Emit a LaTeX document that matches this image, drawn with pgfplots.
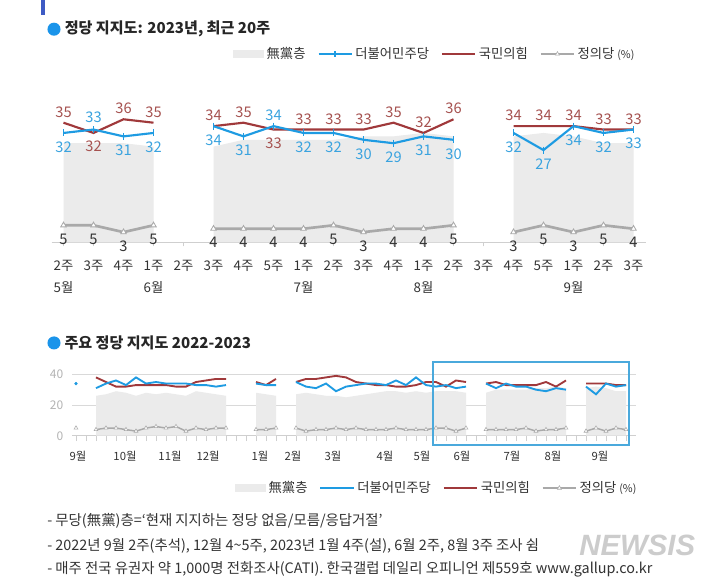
\documentclass[border=0pt]{standalone}
\usepackage{fontspec}
\setmainfont{Noto Sans CJK KR}
\newfontfamily\wmfont{Liberation Sans}
\usepackage{pgfplots}
\usepackage{pgfplotstable}
\pgfplotsset{compat=1.18}

\definecolor{minju}{HTML}{1E9BE2}
\definecolor{minjulbl}{HTML}{3AA3DF}
\definecolor{kuk}{HTML}{A0393B}
\definecolor{kuklbl}{HTML}{A65250}
\definecolor{jus}{HTML}{A9A9A9}
\definecolor{nonefill}{HTML}{EBEBEB}
\definecolor{txt}{HTML}{333333}
\definecolor{axgray}{HTML}{CFCFCF}
\definecolor{ylbl}{HTML}{B4B4B4}
\definecolor{dotblue}{HTML}{1A94EA}
\definecolor{boxblue}{HTML}{4AA9DC}
\definecolor{barblue}{HTML}{3E5BC4}

\newcommand{\fs}[1]{\fontsize{#1}{#1}\selectfont}

\pgfplotsset{
  rectlegend/.style={legend image code/.code={\fill[##1, draw=none] (0pt,-3pt) rectangle (23pt,3pt);}},
  linelegend/.style={legend image code/.code={\draw[mark repeat=2,mark phase=2,##1] plot coordinates {(0pt,0pt) (12.5pt,0pt) (25pt,0pt)};}},
}

% weekly Gallup data, idx 0 = 2022-09 1st week; nan = no survey
% ro/bo = label offsets (pt) for the top chart
\pgfplotstableread{
idx blue red jus none ro bo
0  34  nan 5   nan 0 0
1  nan nan nan nan 0 0
2  31  38  4   26  0 0
3  34  35  5   27  0 0
4  36  32  5   29  0 0
5  33  32  4   28  0 0
6  38  33  3   26  0 0
7  34  33  5   28  0 0
8  35  33  6   27  0 0
9  34  33  5   28  0 0
10 34  32  6   27  0 0
11 34  32  3   26  0 0
12 33  35  5   29  0 0
13 33  36  4   28  0 0
14 32  37  5   27  0 0
15 33  37  5   26  0 0
16 nan nan nan nan 0 0
17 nan nan nan nan 0 0
18 34  35  4   28  0 0
19 33  33  4   27  0 0
20 33  37  5   26  0 0
21 nan nan nan nan 0 0
22 35  35  5   27  0 0
23 32  37  3   28  0 0
24 31  37  4   27  0 0
25 34  38  4   26  0 0
26 29  39  5   26  0 0
27 32  38  4   25  0 0
28 33  35  5   26  0 0
29 34  34  4   27  0 0
30 34  33  4   28  0 0
31 33  33  4   29  0 0
32 36  32  5   29  0 0
33 33  32  4   28  0 0
34 38  33  4   29  0 0
35 33  35  4   28  0 0
36 32  35  5   29  8 -10.5
37 33  32  5   29  -10 9
38 31  36  3   29  8 -10.5
39 32  35  5   28  8 -10.5
40 nan nan nan nan 0 0
41 34  34  4   28  8 -10.5
42 31  35  4   30  8 -10.5
43 34  33  4   30  -10.5 8.5
44 32  33  4   30  8 -10.5
45 32  33  5   30  8 -10.5
46 30  33  3   31  8 -10.5
47 29  35  4   31  8 -10.5
48 31  32  4   32  8 -10.5
49 30  36  5   31  8 -10.5
50 nan nan nan nan 0 0
51 32  34  3   31  8 -10.5
52 27  34  5   32  8 -10.5
53 34  34  3   31  8 -10.5
54 32  33  5   29  8 -10.5
55 33  33  4   29  8 -10.5
}\polls

\begin{document}
\begin{tikzpicture}
\fill[white] (0pt,0pt) rectangle (540pt,-435pt);
\path[use as bounding box] (0pt,0pt) rectangle (540pt,-435pt);

\fill[barblue] (31.1pt,0pt) rectangle (34.1pt,-11.6pt);

% ---------- titles ----------
\fill[dotblue] (40.5pt,-21.9pt) circle (4.9pt);
\node[anchor=west, inner sep=0pt, font=\fs{11.3}\bfseries, text=black!85] at (48.4pt,-21.9pt) {정당 지지도: 2023년, 최근 20주};
\fill[dotblue] (40.5pt,-257.2pt) circle (4.9pt);
\node[anchor=west, inner sep=0pt, font=\fs{11.3}\bfseries, text=black!85] at (48.2pt,-257.0pt) {주요 정당 지지도 2022-2023};

% ---------- top chart: last 20 weeks ----------
\begin{axis}[
  at={(38.625pt,-181.8pt)}, anchor=south west,
  scale only axis, width=445.5pt, height=102.6pt,
  xmin=35.6, xmax=55.4, ymin=0, ymax=40,
  clip=false,
  axis x line=bottom, axis y line=none,
  axis line style={-, draw=axgray, line width=0.6pt},
  xtick={36,...,55},
  xticklabels={2주,3주,4주,1주,2주,3주,4주,5주,1주,2주,3주,4주,1주,2주,3주,4주,5주,1주,2주,3주},
  tick align=outside, major tick length=3pt,
  xtick style={draw=axgray, line width=0.5pt},
  xticklabel style={font=\fs{10}, text=txt, yshift=-7pt},
  extra x ticks={36,39,44,48,53},
  extra x tick labels={5월,6월,7월,8월,9월},
  extra x tick style={major tick length=0pt, tick label style={yshift=-18.75pt}},
  /pgf/number format/assume math mode=true,
  legend style={at={(0.3056,1.377)}, anchor=west, draw=none, fill=none,
    inner sep=0pt, font=\fs{10}, text=txt, legend columns=4,
    /tikz/every even column/.append style={column sep=7pt}},
  legend cell align=left,
]
\addplot[fill=nonefill, draw=none, forget plot, restrict x to domain=36:39] table[x=idx,y=none]{\polls} \closedcycle;
\addplot[fill=nonefill, draw=none, forget plot, restrict x to domain=41:49] table[x=idx,y=none]{\polls} \closedcycle;
\addplot[fill=nonefill, draw=none, forget plot, restrict x to domain=51:55] table[x=idx,y=none]{\polls} \closedcycle;

\addplot[jus, line width=2pt, mark=triangle*, mark size=2.4pt,
  mark options={fill=white, line width=0.6pt}, unbounded coords=jump,
  restrict x to domain=36:55, forget plot, nodes near coords,
  every node near coord/.append style={font=\fs{11}, text=txt, anchor=center, yshift=-10.5pt}]
  table[x=idx,y=jus]{\polls};
\addplot[kuk, line width=1.6pt, unbounded coords=jump,
  restrict x to domain=36:55, forget plot, nodes near coords,
  visualization depends on={\thisrow{ro}\as\ro},
  every node near coord/.append style={font=\fs{11}, text=kuklbl, anchor=center, yshift=\ro}]
  table[x=idx,y=red]{\polls};
\addplot[minju, line width=1.6pt, mark=|, mark size=2.6pt, mark options={line width=1.1pt},
  unbounded coords=jump, restrict x to domain=36:55, forget plot, nodes near coords,
  visualization depends on={\thisrow{bo}\as\bo},
  every node near coord/.append style={font=\fs{11}, text=minjulbl, anchor=center, yshift=\bo}]
  table[x=idx,y=blue]{\polls};

\addlegendimage{rectlegend, fill=nonefill, draw=none}
\addlegendentry{無黨층}
\addlegendimage{linelegend, minju, line width=1.4pt, mark=|, mark size=2.2pt}
\addlegendentry{더불어민주당}
\addlegendimage{linelegend, kuk, line width=1.4pt}
\addlegendentry{국민의힘}
\addlegendimage{linelegend, jus, line width=1.2pt, mark=triangle*, mark size=1.8pt, mark options={fill=white, line width=0.4pt}}
\addlegendentry{정의당 {\fs{8}(\%)}}
\end{axis}

% ---------- bottom chart: 2022-2023 ----------
\begin{axis}[
  at={(54pt,-326.8pt)}, anchor=south west,
  scale only axis, width=423pt, height=46.05pt,
  xmin=-0.4, xmax=56, ymin=0, ymax=40,
  axis lines=left,
  axis line style={-},
  y axis line style={draw=none},
  x axis line style={draw=axgray, line width=0.6pt},
  ytick={0,20,40},
  ymajorgrids, grid style={draw=axgray!80, line width=0.5pt},
  ytick style={draw=none},
  yticklabel style={font=\fs{9}, text=ylbl, xshift=-3pt},
  xtick={0.2,4.9,9.4,13.2,18.4,21.7,25.7,30.9,34.6,38.6,43.6,47.7,52.4},
  xticklabels={9월,10월,11월,12월,1월,2월,3월,4월,5월,6월,7월,8월,9월},
  minor xtick={0,...,55},
  tick align=outside,
  major tick length=0pt, minor tick length=4pt,
  minor tick style={draw=axgray, line width=0.5pt},
  xticklabel style={font=\fs{8.5}, text=txt, yshift=-8pt},
  /pgf/number format/assume math mode=true,
  legend style={at={(0.289,-0.852)}, anchor=west, draw=none, fill=none,
    inner sep=0pt, font=\fs{10}, text=txt, legend columns=4,
    /tikz/every even column/.append style={column sep=7pt}},
  legend cell align=left,
]
\addplot[fill=nonefill, draw=none, forget plot, restrict x to domain=2:15] table[x=idx,y=none]{\polls} \closedcycle;
\addplot[fill=nonefill, draw=none, forget plot, restrict x to domain=18:20] table[x=idx,y=none]{\polls} \closedcycle;
\addplot[fill=nonefill, draw=none, forget plot, restrict x to domain=22:39] table[x=idx,y=none]{\polls} \closedcycle;
\addplot[fill=nonefill, draw=none, forget plot, restrict x to domain=41:49] table[x=idx,y=none]{\polls} \closedcycle;
\addplot[fill=nonefill, draw=none, forget plot, restrict x to domain=51:55] table[x=idx,y=none]{\polls} \closedcycle;

\addplot[jus, line width=1.1pt, mark=triangle*, mark size=1.7pt,
  mark options={fill=white, line width=0.4pt}, unbounded coords=jump, forget plot]
  table[x=idx,y=jus]{\polls};
\addplot[kuk, line width=1.4pt, unbounded coords=jump, forget plot] table[x=idx,y=red]{\polls};
\addplot[minju, line width=1.4pt, unbounded coords=jump, forget plot] table[x=idx,y=blue]{\polls};
\addplot[minju, only marks, mark=*, mark size=1pt, forget plot, restrict x to domain=0:0] table[x=idx,y=blue]{\polls};

\addlegendimage{rectlegend, fill=nonefill, draw=none}
\addlegendentry{無黨층}
\addlegendimage{linelegend, minju, line width=1.4pt}
\addlegendentry{더불어민주당}
\addlegendimage{linelegend, kuk, line width=1.4pt}
\addlegendentry{국민의힘}
\addlegendimage{linelegend, jus, line width=1.2pt, mark=triangle*, mark size=1.8pt, mark options={fill=white, line width=0.4pt}}
\addlegendentry{정의당 {\fs{8}(\%)}}
\end{axis}

% box marking the last 20 weeks
\draw[boxblue, line width=1.1pt] (324.75pt,-271.5pt) rectangle (471.75pt,-333.75pt);

% ---------- notes ----------
\node[anchor=west, inner sep=0pt, font=\fs{10.8}, text=txt] at (35.25pt,-390.8pt) {- 무당(無黨)층=‘현재 지지하는 정당 없음/모름/응답거절’};
\node[anchor=west, inner sep=0pt, font=\fs{10.8}, text=txt] at (35.25pt,-409.5pt) {- 2022년 9월 2주(추석), 12월 4\textasciitilde5주, 2023년 1월 4주(설), 6월 2주, 8월 3주 조사 쉼};
\node[anchor=west, inner sep=0pt, font=\fs{10.8}, text=txt] at (35.25pt,-427pt) {- 매주 전국 유권자 약 1,000명 전화조사(CATI). 한국갤럽 데일리 오피니언 제559호 www.gallup.co.kr};

\node[inner sep=0pt, font=\wmfont\fs{22}\bfseries\itshape, text=black!20] at (478pt,-409pt) {NEWSIS};
\end{tikzpicture}
\end{document}
